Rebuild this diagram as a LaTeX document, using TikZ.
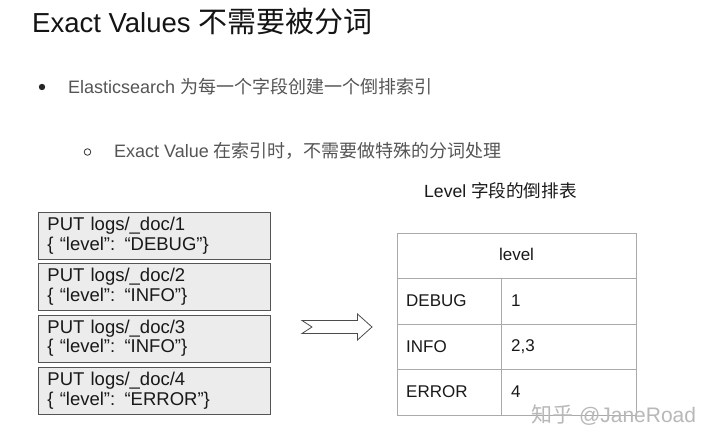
\documentclass[tikz,border=0pt]{standalone}
\usepackage{fontspec}
\setmainfont{Liberation Sans}
\newfontfamily\cjk{Noto Sans CJK SC}
\definecolor{txtgray}{HTML}{555555}
\definecolor{boxfill}{HTML}{ECECEC}
\definecolor{boxline}{HTML}{555555}
\definecolor{tabline}{HTML}{AAAAAA}
\tikzset{
  docbox/.style={draw=boxline, line width=0.9pt, fill=boxfill, anchor=north west,
    minimum width=232pt, minimum height=47pt, text width=214pt, inner xsep=9pt,
    align=left, font=\fontsize{18.5}{19.5}\selectfont, text=black!90},
  celltext/.style={anchor=west, font=\fontsize{17}{20}\selectfont, text=black!90, inner sep=0pt},
  tab/.style={draw=tabline, line width=0.7pt}
}
\begin{document}
\begin{tikzpicture}[x=1pt,y=-1pt]
\fill[white] (0,0) rectangle (720,444);
\useasboundingbox (0,0) rectangle (720,444);

% title
\node[anchor=base west, inner sep=0pt, font=\fontsize{27.5}{32}\selectfont, text=black!92] (title) at (32,33)
  {Exact Values {\cjk\fontsize{29}{32}\selectfont 不需要被分词}};

% bullets
\fill[black!85] (42,87) circle (3.2pt) coordinate (b1);
\node[anchor=base west, inner sep=0pt, font=\fontsize{18}{20}\selectfont, text=txtgray] (l1) at (68,93)
  {Elasticsearch {\cjk 为每一个字段创建一个倒排索引}};
\draw[black!80, line width=0.8pt] (87.5,152) circle (3.3pt) coordinate (b2);
\node[anchor=base west, inner sep=0pt, font=\fontsize{18}{20}\selectfont, text=txtgray] (l2) at (114,157)
  {Exact Value {\cjk 在索引时，不需要做特殊的分词处理}};

% caption
\node[anchor=base west, inner sep=0pt, font=\fontsize{17.6}{20}\selectfont, text=black!90] (cap) at (424,197)
  {Level {\cjk 字段的倒排表}};

% documents
\node[docbox] (d1) at (38,212) {PUT logs/\_doc/1\\\{ “level”: “DEBUG”\}};
\node[docbox] (d2) at (38,263) {PUT logs/\_doc/2\\\{ “level”: “INFO”\}};
\node[docbox] (d3) at (38,314.5) {PUT logs/\_doc/3\\\{ “level”: “INFO”\}};
\node[docbox] (d4) at (38,367) {PUT logs/\_doc/4\\\{ “level”: “ERROR”\}};

% arrow
\coordinate (arr) at (302,327);
\draw[black!70, line width=0.8pt, line join=miter]
  (302,320.5) -- (357.5,320.5) -- (357.5,314) -- (372,327) -- (357.5,340) -- (357.5,333.5)
  -- (302,333.5) -- (312,327) -- cycle;

% table
\node[tab, anchor=north west, minimum width=239pt, minimum height=182pt, inner sep=0pt] (tbl) at (397,233) {};
\draw[tab] (397,278) -- (636,278);
\draw[tab] (397,324) -- (636,324);
\draw[tab] (397,369) -- (636,369);
\draw[tab] (501,278) -- (501,415);
\node[font=\fontsize{17}{20}\selectfont, text=black!90, inner sep=0pt] (hdr) at (516.5,254.5) {level};
\node[celltext] (k1) at (406,300.5) {DEBUG};
\node[celltext] (v1) at (511,300.5) {1};
\node[celltext] (k2) at (406,346.5) {INFO};
\node[celltext] (v2) at (511,346.5) {2,3};
\node[celltext] (k3) at (406,391.5) {ERROR};
\node[celltext] (v3) at (511,391.5) {4};

% watermark
\node[anchor=base west, inner sep=0pt, text=black!28, font=\fontsize{21}{24}\selectfont] (wm) at (531,422)
  {{\cjk 知乎} @JaneRoad};
\end{tikzpicture}
\end{document}
